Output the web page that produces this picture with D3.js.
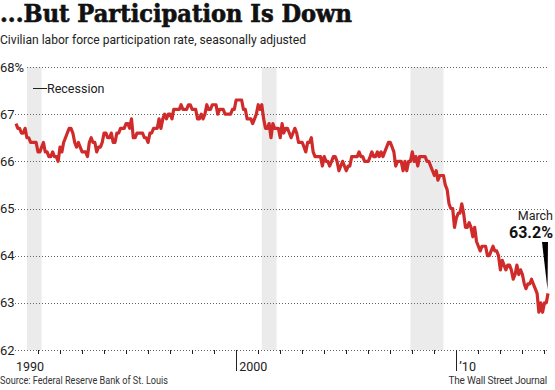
<!DOCTYPE html>
<html>
<head>
<meta charset="utf-8">
<script src="https://cdn.jsdelivr.net/npm/d3@7"></script>
<style>
  body { margin: 0; background: #fff; }
  svg { display: block; }
  .lbl { font-family: "Liberation Sans Narrow", "Roboto", sans-serif; fill: #222; }
</style>
</head>
<body>
<div id="chart"></div>
<script>
// monthly participation rate, Jan 1990 - Mar 2014
var startYear = 1990;
var rate = [
  66.8, 66.7, 66.7, 66.6, 66.6, 66.7, 66.5, 66.5, 66.4, 66.4, 66.4, 66.4,
  66.2, 66.2, 66.3, 66.4, 66.2, 66.2, 66.1, 66.1, 66.2, 66.1, 66.1, 66.0,
  66.3, 66.2, 66.4, 66.5, 66.6, 66.7, 66.7, 66.6, 66.4, 66.3, 66.4, 66.3,
  66.2, 66.2, 66.2, 66.1, 66.4, 66.5, 66.4, 66.4, 66.2, 66.3, 66.3, 66.4,
  66.6, 66.6, 66.5, 66.5, 66.6, 66.4, 66.4, 66.6, 66.6, 66.7, 66.7, 66.7,
  66.8, 66.8, 66.7, 66.9, 66.5, 66.5, 66.6, 66.6, 66.6, 66.6, 66.5, 66.5,
  66.4, 66.6, 66.6, 66.7, 66.7, 66.7, 66.9, 66.7, 66.9, 67.0, 66.9, 67.0,
  67.0, 66.9, 67.1, 67.1, 67.1, 67.1, 67.2, 67.1, 67.1, 67.1, 67.2, 67.2,
  67.1, 67.1, 67.1, 66.9, 66.9, 67.0, 66.9, 67.0, 67.2, 67.1, 67.1, 67.2,
  67.2, 67.2, 67.0, 67.1, 67.1, 67.1, 67.0, 67.0, 67.0, 67.0, 67.1, 67.1,
  67.3, 67.3, 67.3, 67.3, 67.1, 67.1, 66.9, 66.9, 66.9, 66.8, 66.9, 67.0,
  67.2, 67.1, 67.2, 66.9, 66.7, 66.7, 66.8, 66.5, 66.8, 66.7, 66.7, 66.7,
  66.5, 66.8, 66.6, 66.7, 66.7, 66.6, 66.5, 66.6, 66.7, 66.6, 66.4, 66.4,
  66.4, 66.3, 66.2, 66.4, 66.4, 66.5, 66.2, 66.1, 66.1, 66.1, 66.1, 65.9,
  66.1, 66.0, 66.0, 65.9, 66.0, 66.1, 66.1, 66.0, 65.8, 65.9, 66.0, 65.9,
  65.8, 65.9, 65.9, 66.1, 66.1, 66.1, 66.1, 66.2, 66.1, 66.1, 66.0, 66.0,
  66.0, 66.1, 66.2, 66.1, 66.1, 66.2, 66.1, 66.2, 66.1, 66.2, 66.3, 66.4,
  66.4, 66.3, 66.2, 65.9, 66.0, 66.0, 66.0, 65.8, 66.0, 65.8, 66.0, 66.0,
  66.2, 66.0, 66.1, 65.9, 66.1, 66.1, 66.1, 66.1, 66.0, 66.0, 65.9, 65.8,
  65.7, 65.8, 65.6, 65.7, 65.7, 65.7, 65.5, 65.4, 65.1, 65.0, 65.0, 64.6,
  64.8, 64.9, 64.9, 65.1, 64.9, 64.6, 64.6, 64.7, 64.6, 64.4, 64.6, 64.3,
  64.2, 64.1, 64.2, 64.2, 64.2, 64.0, 64.0, 64.1, 64.2, 64.1, 64.1, 64.0,
  63.7, 63.9, 63.8, 63.7, 63.8, 63.8, 63.7, 63.5, 63.6, 63.8, 63.6, 63.7,
  63.6, 63.4, 63.3, 63.4, 63.4, 63.5, 63.4, 63.3, 63.2, 62.8, 63.0, 62.8,
  63.0, 63.0, 63.2
];

// recession periods [start, end] as "year-month"
var recessions = [["1990-07", "1991-03"], ["2001-03", "2001-11"], ["2007-12", "2009-06"]];

var yTicks = [62, 63, 64, 65, 66, 67, 68];
var yTickLabels = ["62", "63", "64", "65", "66", "67", "68%"];
var yearTicks = d3.range(1991, 2015);
var decadeYears = [1990, 2000, 2010];
var decadeLabels = ["1990", "2000", "\u201910"];

var width = 555, height = 390;

var parseMonth = d3.timeParse("%Y-%m");
var series = rate.map(function(v, i) {
  return { date: new Date(startYear + Math.floor(i / 12), i % 12, 1), value: v };
});

var svg = d3.select("#chart").append("svg")
            .attr("width", width)
            .attr("height", height);

// scales
var x = d3.scaleTime()
          .domain([new Date(1990, 0, 1), new Date(2014, 2, 1)])
          .range([16, 548]);
var y = d3.scaleLinear()
          .domain([62, 68])
          .range([350, 67]);

// recession bars
svg.append("g")
  .selectAll("rect")
  .data(recessions)
  .enter().append("rect")
    .attr("x", function(d) { return x(parseMonth(d[0])); })
    .attr("width", function(d) { return x(parseMonth(d[1])) - x(parseMonth(d[0])); })
    .attr("y", y(68))
    .attr("height", y(62) - y(68))
    .style("fill", "#ebebeb");

// dotted grid lines
svg.append("g")
  .selectAll("line")
  .data(yTicks)
  .enter().append("line")
    .attr("x1", function(d) { return d === 68 ? 27 : 15; })
    .attr("x2", 549)
    .attr("y1", function(d) { return Math.round(y(d)) + 0.5; })
    .attr("y2", function(d) { return Math.round(y(d)) + 0.5; })
    .style("stroke", "#666")
    .style("stroke-width", 1)
    .style("stroke-dasharray", "1,2");

// y labels
svg.append("g")
  .selectAll("text")
  .data(yTicks)
  .enter().append("text")
    .attr("class", "lbl")
    .attr("x", 0)
    .attr("y", function(d) { return y(d) + 4.5; })
    .style("font-size", "13px")
    .text(function(d, i) { return yTickLabels[i]; });

// small year ticks, long ones at the decades
svg.append("g")
  .selectAll("line")
  .data(yearTicks)
  .enter().append("line")
    .attr("x1", function(d) { return Math.round(x(new Date(d, 0, 1))) + 0.5; })
    .attr("x2", function(d) { return Math.round(x(new Date(d, 0, 1))) + 0.5; })
    .attr("y1", y(62))
    .attr("y2", function(d) { return d % 10 === 0 ? 371 : y(62) + 4; })
    .style("stroke", "#222")
    .style("stroke-width", 1);

// decade labels
svg.append("g")
  .selectAll("text")
  .data(decadeYears)
  .enter().append("text")
    .attr("class", "lbl")
    .attr("x", function(d) { return x(new Date(d, 0, 1)) + (d === 1990 ? 0 : 3); })
    .attr("y", 371)
    .style("font-size", "12.5px")
    .text(function(d, i) { return decadeLabels[i]; });

// legend
svg.append("line")
  .attr("x1", 33).attr("x2", 47)
  .attr("y1", 88.5).attr("y2", 88.5)
  .style("stroke", "#222")
  .style("stroke-width", 1);
svg.append("text")
  .attr("class", "lbl")
  .attr("x", 47)
  .attr("y", 93)
  .style("font-size", "12.5px")
  .text("Recession");

// the line
var line = d3.line()
             .x(function(d) { return x(d.date); })
             .y(function(d) { return y(d.value); });

svg.append("path")
  .datum(series)
  .attr("d", line)
  .style("fill", "none")
  .style("stroke", "#d02b2b")
  .style("stroke-width", 3.2)
  .style("stroke-linejoin", "round");

// annotation for last value
var last = series[series.length - 1];
var lx = x(last.date), ly = y(last.value);
svg.append("path")
  .attr("d", "M" + (lx - 6) + "," + 242 + "L" + (lx) + "," + 242 + "L" + (lx - 0.5) + "," + (ly - 4) + "Z")
  .style("fill", "#000");
svg.append("text")
  .attr("class", "lbl")
  .attr("x", 553)
  .attr("y", 220)
  .attr("text-anchor", "end")
  .style("font-size", "12.5px")
  .text("March");
svg.append("text")
  .attr("x", 553)
  .attr("y", 238)
  .attr("text-anchor", "end")
  .style("font-family", "'Roboto', sans-serif")
  .style("font-weight", "bold")
  .style("font-size", "16px")
  .style("fill", "#111")
  .text(last.value.toFixed(1) + "%");

// title and subtitle
svg.append("text")
  .attr("x", 0)
  .attr("y", 22)
  .attr("textLength", 352)
  .attr("lengthAdjust", "spacingAndGlyphs")
  .style("font-family", "'DejaVu Serif Condensed', 'DejaVu Serif', serif")
  .style("font-weight", "bold")
  .style("font-size", "25px")
  .style("fill", "#111")
  .style("stroke", "#111")
  .style("stroke-width", 0.6)
  .text("...But Participation Is Down");

svg.append("text")
  .attr("class", "lbl")
  .attr("x", 0)
  .attr("y", 44)
  .attr("textLength", 306)
  .attr("lengthAdjust", "spacingAndGlyphs")
  .style("font-size", "13.5px")
  .text("Civilian labor force participation rate, seasonally adjusted");

// source and credit
svg.append("text")
  .attr("class", "lbl")
  .attr("x", 0)
  .attr("y", 384)
  .attr("textLength", 168)
  .attr("lengthAdjust", "spacingAndGlyphs")
  .style("font-size", "11.5px")
  .style("fill", "#333")
  .text("Source: Federal Reserve Bank of St. Louis");

svg.append("text")
  .attr("class", "lbl")
  .attr("x", 547)
  .attr("y", 384)
  .attr("text-anchor", "end")
  .style("font-size", "10px")
  .style("letter-spacing", "-0.2px")
  .style("fill", "#333")
  .text("The Wall Street Journal");
</script>
</body>
</html>
